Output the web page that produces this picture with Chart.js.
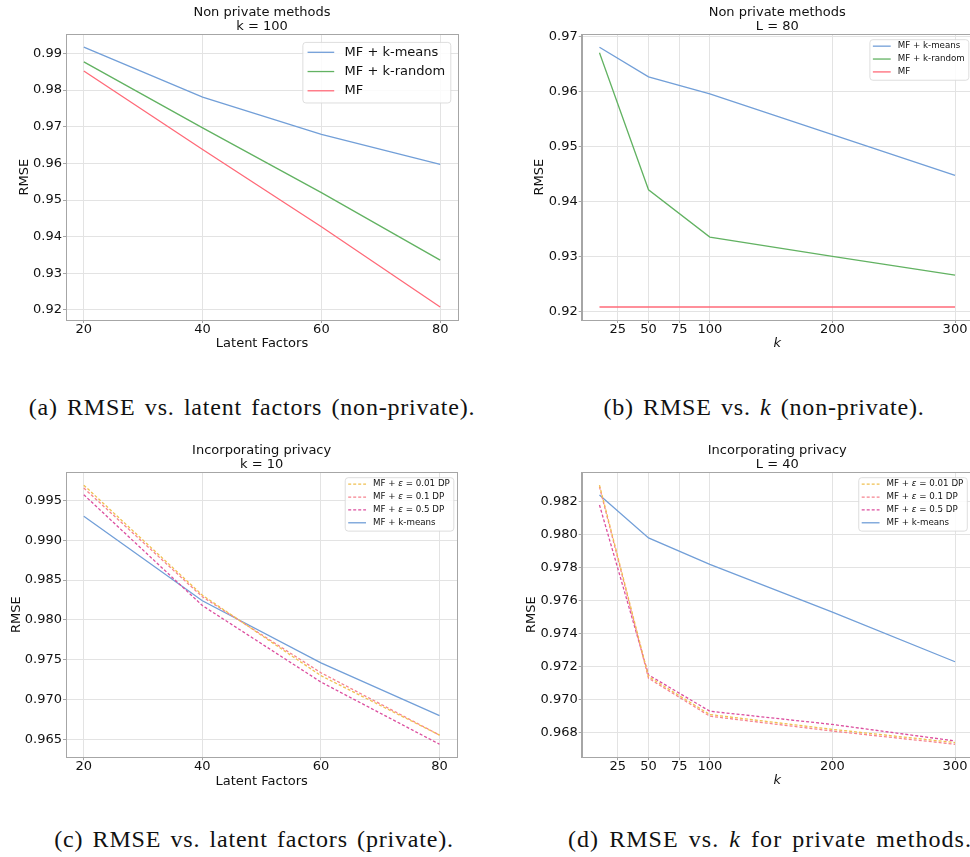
<!DOCTYPE html>
<html>
<head>
<meta charset="utf-8">
<script src="https://cdn.jsdelivr.net/npm/chart.js@4.4.0/dist/chart.umd.min.js"></script>
<style>
html, body { margin: 0; padding: 0; background: #fff; }
#page { position: relative; width: 970px; height: 857px; overflow: hidden; }
#page canvas { position: absolute; }
.cap { position: absolute; font-family: "Liberation Serif", serif; font-size: 24px; letter-spacing: 0.8px; word-spacing: 2.5px;
       color: #111; white-space: nowrap; transform: translate(-50%, -50%); line-height: 1; }
</style>
</head>
<body>
<div id="page">
  <div class="cap" style="left:252px;top:407px">(a) RMSE vs. latent factors (non-private).</div>
  <div class="cap" style="left:764px;top:407px">(b) RMSE vs. <i>k</i> (non-private).</div>
  <div class="cap" style="left:254px;top:839px">(c) RMSE vs. latent factors (private).</div>
  <div class="cap" style="left:770px;top:839px;letter-spacing:1.05px;word-spacing:3px">(d) RMSE vs. <i>k</i> for private methods.</div>
</div>
<script>
// x values
const latentFactors = [20, 40, 60, 80];
const kValues = [10, 50, 100, 200, 300];

// (a) non private, k = 100
const aKmeans = [0.9917, 0.9781, 0.9679, 0.9597];
const aKrandom = [0.9877, 0.9697, 0.9520, 0.9336];
const aMF = [0.9852, 0.9638, 0.9427, 0.9208];

// (b) non private, L = 80
const bKmeans = [0.9680, 0.9626, 0.9595, 0.9521, 0.9447];
const bKrandom = [0.9670, 0.9421, 0.9335, 0.9300, 0.9266];
const bMF = [0.9208, 0.9208, 0.9208, 0.9208, 0.9208];

// (c) private, k = 10
const cEps001 = [0.9969, 0.9831, 0.9730, 0.96555];
const cEps01 = [0.99654, 0.9829, 0.97337, 0.96555];
const cEps05 = [0.9957, 0.9818, 0.9722, 0.9644];
const cKmeans = [0.9930, 0.9824, 0.9746, 0.9680];

// (d) private, L = 40
const dEps001 = [0.9830, 0.9714, 0.9691, 0.9682, 0.9674];
const dEps01 = [0.9829, 0.9713, 0.9690, 0.9681, 0.9673];
const dEps05 = [0.9818, 0.9715, 0.9693, 0.9685, 0.9675];
const dKmeans = [0.9824, 0.9798, 0.9782, 0.9753, 0.9723];

// tick labels
const xTicksLatent = [20, 40, 60, 80];
const xTicksK = [25, 50, 75, 100, 200, 300];
const yTicksA = [0.92, 0.93, 0.94, 0.95, 0.96, 0.97, 0.98, 0.99];
const yTicksB = [0.92, 0.93, 0.94, 0.95, 0.96, 0.97];
const yTicksC = [0.965, 0.970, 0.975, 0.980, 0.985, 0.990, 0.995];
const yTicksD = [0.968, 0.970, 0.972, 0.974, 0.976, 0.978, 0.980, 0.982];

const FONT = 'DejaVu Sans';
const TEXT = '#111';
const GRID = '#e3e3e3';
const SPINE = '#a6a6a6';
const BLUE = '#729fd8', GREEN = '#62b262', RED = '#ff6a78';
const YEL = '#f0c050', PINK = '#f6838f', MAG = '#dc4f9f';

function series(label, xs, ys, color, dashed) {
    return {
        label: label,
        data: xs.map((x, i) => ({ x: x, y: ys[i] })),
        borderColor: color,
        borderWidth: 1.3,
        borderDash: dashed ? [3, 2] : [],
        pointRadius: 0,
        tension: 0,
        fill: false
    };
}

// top and right spines
const framePlugin = {
    id: 'frame',
    afterDraw(chart) {
        const a = chart.chartArea, ctx = chart.ctx;
        ctx.save();
        ctx.strokeStyle = SPINE;
        ctx.lineWidth = 1;
        ctx.strokeRect(Math.round(a.left) + 0.5, Math.round(a.top) + 0.5,
            Math.round(a.right - a.left), Math.round(a.bottom - a.top));
        ctx.restore();
    }
};

// matplotlib style legend box in the top right corner
const boxLegendPlugin = {
    id: 'boxLegend',
    afterDraw(chart, args, opts) {
        const ctx = chart.ctx, a = chart.chartArea;
        const fs = opts.size;
        const rowH = fs * 1.48, handle = fs * 2.05, gap = fs * 0.8, pad = fs * 0.4;
        const normal = fs + 'px "' + FONT + '"';
        const italic = 'oblique ' + fs + 'px "' + FONT + '"';
        const sets = chart.data.datasets;
        ctx.save();
        const parts = sets.map(ds => ds.label.split(/(ε)/).filter(s => s.length));
        const widthOf = p => p.reduce((w, s) => {
            ctx.font = s === 'ε' ? italic : normal;
            return w + ctx.measureText(s).width;
        }, 0);
        const textW = Math.max(...parts.map(widthOf));
        const w = pad + handle + gap + textW + pad;
        const h = fs * 1.7 + (sets.length - 1) * rowH;
        const right = a.right - opts.insetRight, top = a.top + opts.insetTop;
        const left = right - w;
        ctx.globalAlpha = 0.85;
        ctx.fillStyle = '#fff';
        ctx.strokeStyle = '#d8d8d8';
        ctx.lineWidth = 1;
        ctx.beginPath();
        ctx.roundRect(left + 0.5, top + 0.5, w, h, 3);
        ctx.fill();
        ctx.stroke();
        ctx.globalAlpha = 1;
        sets.forEach((ds, i) => {
            const y = top + fs * 0.8 + i * rowH;
            ctx.strokeStyle = ds.borderColor;
            ctx.lineWidth = ds.borderWidth;
            ctx.setLineDash(ds.borderDash || []);
            ctx.beginPath();
            ctx.moveTo(left + pad, y);
            ctx.lineTo(left + pad + handle, y);
            ctx.stroke();
            ctx.setLineDash([]);
            ctx.fillStyle = TEXT;
            ctx.textBaseline = 'middle';
            ctx.textAlign = 'left';
            let x = left + pad + handle + gap;
            parts[i].forEach(s => {
                ctx.font = s === 'ε' ? italic : normal;
                ctx.fillText(s, x, y);
                x += ctx.measureText(s).width;
            });
        });
        ctx.restore();
    }
};

function makeChart(spec) {
    const box = spec.box, area = spec.area;
    const titleH = 2 * 13 * 1.12 + 5;
    const canvas = document.createElement('canvas');
    canvas.width = box.w;
    canvas.height = box.h;
    canvas.style.left = box.left + 'px';
    canvas.style.top = box.top + 'px';
    document.getElementById('page').appendChild(canvas);

    const tickFont = { family: FONT, size: 13, lineHeight: 1 };
    const titleFont = { family: FONT, size: 13, lineHeight: 1.2 };

    new Chart(canvas, {
        type: 'line',
        data: { datasets: spec.datasets },
        options: {
            responsive: false,
            animation: false,
            devicePixelRatio: 1,
            layout: {
                autoPadding: false,
                padding: {
                    left: 0,
                    top: area.top - box.top - titleH,
                    right: box.left + box.w - area.right,
                    bottom: 0
                }
            },
            plugins: {
                legend: { display: false },
                tooltip: { enabled: false },
                title: {
                    display: true,
                    fullSize: false,
                    text: spec.title,
                    color: TEXT,
                    font: { family: FONT, size: 13, weight: 'normal', lineHeight: 1.12 },
                    padding: { top: 5, bottom: 0 }
                },
                boxLegend: spec.legend
            },
            scales: {
                x: {
                    type: 'linear',
                    min: spec.xRange[0],
                    max: spec.xRange[1],
                    afterFit: s => { s.height = box.top + box.h - area.bottom; },
                    afterBuildTicks: s => { s.ticks = spec.xTicks.map(v => ({ value: v })); },
                    ticks: { color: TEXT, font: tickFont, padding: 0, maxRotation: 0, callback: v => String(v) },
                    grid: { color: GRID, tickColor: SPINE, tickLength: 3 },
                    border: { color: SPINE, width: 1 },
                    title: {
                        display: true,
                        text: spec.xTitle,
                        color: TEXT,
                        font: Object.assign({}, titleFont, spec.xTitleItalic ? { style: 'italic' } : {}),
                        padding: { top: 0, bottom: box.top + box.h - spec.xTitleY - 7.8 }
                    }
                },
                y: {
                    min: spec.yRange[0],
                    max: spec.yRange[1],
                    afterFit: s => { s.width = area.left - box.left; },
                    afterBuildTicks: s => { s.ticks = spec.yTicks.map(v => ({ value: v })); },
                    ticks: { color: TEXT, font: tickFont, padding: 1, callback: v => v.toFixed(spec.yDigits) },
                    grid: { color: GRID, tickColor: SPINE, tickLength: 3 },
                    border: { color: SPINE, width: 1 },
                    title: {
                        display: true,
                        text: 'RMSE',
                        color: TEXT,
                        font: titleFont,
                        padding: { top: spec.yTitleX - box.left - 7.8, bottom: 0 }
                    }
                }
            }
        },
        plugins: [framePlugin, boxLegendPlugin]
    });
}

makeChart({
    box: { left: 0, top: 0, w: 485, h: 360 },
    area: { left: 66, top: 34.2, right: 458, bottom: 320 },
    title: ['Non private methods', 'k = 100'],
    xTitle: 'Latent Factors', xTitleY: 343.3, yTitleX: 24.7,
    xRange: [17, 83], xTicks: xTicksLatent,
    yRange: [0.917255, 0.995245], yTicks: yTicksA, yDigits: 2,
    legend: { size: 13, insetTop: 7.7, insetRight: 7.7 },
    datasets: [
        series('MF + k-means', latentFactors, aKmeans, BLUE),
        series('MF + k-random', latentFactors, aKrandom, GREEN),
        series('MF', latentFactors, aMF, RED)
    ]
});

makeChart({
    box: { left: 485, top: 0, w: 500, h: 360 },
    area: { left: 581.7, top: 34.2, right: 972.8, bottom: 320 },
    title: ['Non private methods', 'L = 80'],
    xTitle: 'k', xTitleItalic: true, xTitleY: 343.3, yTitleX: 540,
    xRange: [-4.5, 314.5], xTicks: xTicksK,
    yRange: [0.91844, 0.97036], yTicks: yTicksB, yDigits: 2,
    legend: { size: 8.7, insetTop: 5, insetRight: 4.5 },
    datasets: [
        series('MF + k-means', kValues, bKmeans, BLUE),
        series('MF + k-random', kValues, bKrandom, GREEN),
        series('MF', kValues, bMF, RED)
    ]
});

makeChart({
    box: { left: 0, top: 437.5, w: 485, h: 360 },
    area: { left: 66, top: 471.7, right: 457.3, bottom: 756.7 },
    title: ['Incorporating privacy', 'k = 10'],
    xTitle: 'Latent Factors', xTitleY: 780.7, yTitleX: 16.7,
    xRange: [17, 83], xTicks: xTicksLatent,
    yRange: [0.962775, 0.998525], yTicks: yTicksC, yDigits: 3,
    legend: { size: 8.7, insetTop: 5, insetRight: 4 },
    datasets: [
        series('MF + ε = 0.01 DP', latentFactors, cEps001, YEL, true),
        series('MF + ε = 0.1 DP', latentFactors, cEps01, PINK, true),
        series('MF + ε = 0.5 DP', latentFactors, cEps05, MAG, true),
        series('MF + k-means', latentFactors, cKmeans, BLUE)
    ]
});

makeChart({
    box: { left: 485, top: 437.5, w: 500, h: 360 },
    area: { left: 581.7, top: 471.7, right: 972.8, bottom: 756.7 },
    title: ['Incorporating privacy', 'L = 40'],
    xTitle: 'k', xTitleItalic: true, xTitleY: 780, yTitleX: 531.7,
    xRange: [-4.5, 314.5], xTicks: xTicksK,
    yRange: [0.966515, 0.983785], yTicks: yTicksD, yDigits: 3,
    legend: { size: 8.7, insetTop: 5, insetRight: 6 },
    datasets: [
        series('MF + ε = 0.01 DP', kValues, dEps001, YEL, true),
        series('MF + ε = 0.1 DP', kValues, dEps01, PINK, true),
        series('MF + ε = 0.5 DP', kValues, dEps05, MAG, true),
        series('MF + k-means', kValues, dKmeans, BLUE)
    ]
});
</script>
</body>
</html>
